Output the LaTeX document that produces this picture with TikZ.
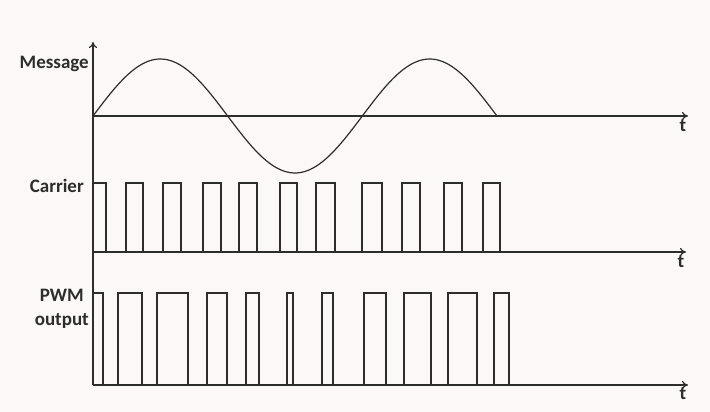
\documentclass[tikz,border=0pt]{standalone}
\usepackage{fontspec}
\setmainfont{Carlito}
\usetikzlibrary{arrows.meta}
\definecolor{nen}{RGB}{251,248,247}
\definecolor{net}{RGB}{45,45,45}
\tikzset{
    nhan/.style={font=\bfseries\fontsize{19}{21}\selectfont, text=net, inner sep=1pt},
    truc/.style={line width=1.2pt, draw=net, -{To[length=6pt,width=8pt]}},
    xung/.style={line width=1.2pt, draw=net}
}
\begin{document}
\begin{tikzpicture}[x=1pt, y=-1pt]
    \fill[nen] (0,0) rectangle (710,412);
    % 1. Hệ trục
    \draw[truc] (93,385) -- (93,42);
    \draw[truc] (93,116) -- (688,116) node[nhan, below, xshift=-5pt, yshift=-2pt] (tmsg) {t};
    \draw[truc] (93,252) -- (686,252) node[nhan, below, xshift=-5pt, yshift=-2pt] (tcar) {t};
    \draw[truc] (93,385) -- (688,385) node[nhan, below, xshift=-5pt, yshift=-1pt] (tpwm) {t};
    \node[nhan, anchor=east] (msg) at (90,64) {Message};
    \node[nhan, anchor=east] (car) at (85,186) {Carrier};
    \node[nhan, align=center, anchor=east, font=\bfseries\fontsize{19}{24}\selectfont] (pwm) at (90,309) {PWM\\output};
    
    % 2. Tín hiệu sin
    \draw[xung, samples=120, domain=93:497]
        plot (\x, {116-57*sin((\x-93)*1.33663)});
    
    % 3. Sóng mang
    \draw[xung] (93,183) -- (106,183) -- (106,252);
    \foreach \a/\b in {126/143,163/181,203/221,239/257,280/297,316/335,362/382,402/420,444/462,483/500} {
        \draw[xung] (\a,252) -- (\a,183) -- (\b,183) -- (\b,252);
    }
    
    % 4. Tín hiệu PWM
    \draw[xung] (93,293) -- (103,293) -- (103,385);
    \foreach \a/\b in {118/142,157/188,207/227,246/259,287/293,322/333,364/386,404/431,448/477,494/509} {
        \draw[xung] (\a,385) -- (\a,293) -- (\b,293) -- (\b,385);
    }
\end{tikzpicture}
\end{document}
